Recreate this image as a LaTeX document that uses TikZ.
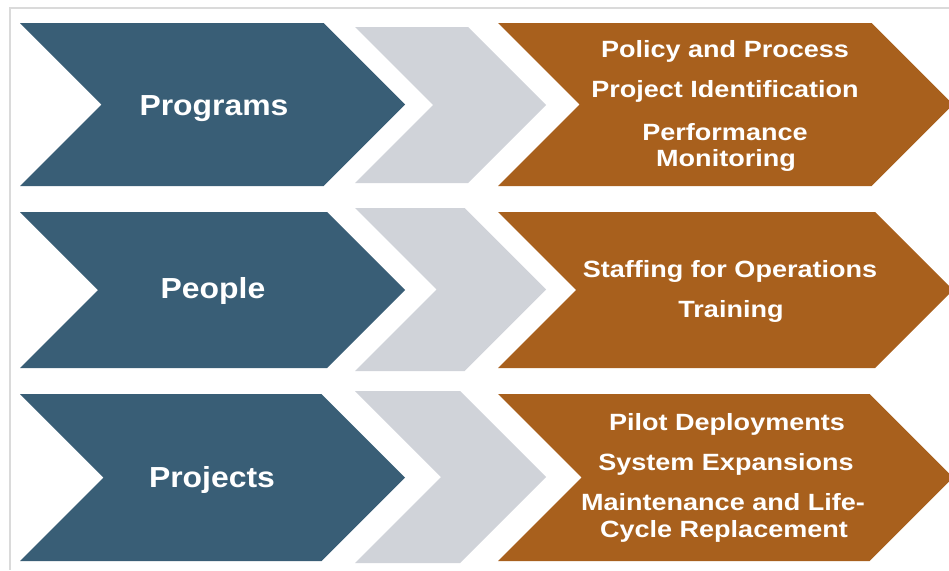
\documentclass[tikz,border=0pt]{standalone}
\usepackage{fontspec}
\setmainfont{Liberation Sans}
\usetikzlibrary{positioning}
\definecolor{slate}{RGB}{57,94,118}
\definecolor{mist}{RGB}{208,211,217}
\definecolor{rust}{RGB}{168,96,29}
\definecolor{rulegray}{RGB}{218,218,218}
\newcommand{\chev}[5]{\fill[#1] (#2,#4) -- ({#3-(#5-#4)/2},#4) -- (#3,{(#4+#5)/2}) -- ({#3-(#5-#4)/2},#5) -- (#2,#5) -- ({#2+(#5-#4)/2},{(#4+#5)/2}) -- cycle;}
\newcommand{\wide}[2]{\scalebox{#1}[1]{#2}}

\begin{document}
\begin{tikzpicture}[x=1pt, y=-1pt, b/.style={anchor=base, text=white, font=\bfseries\fontsize{29}{34}\selectfont}, o/.style={anchor=base, text=white, font=\bfseries\fontsize{23.5}{27}\selectfont}]
	\useasboundingbox[fill=white] (0,0) rectangle (949,570);
	\draw[rulegray, line width=1.2pt] (949,8) -- (10,8) -- (10,570);
	\foreach \ya/\yb/\ga/\gb in {23/186/27/183, 212/368/208/371, 394/561/391/563}{
		\chev{slate}{20}{405}{\ya}{\yb}
		\chev{mist}{355}{546}{\ga}{\gb}
		\chev{rust}{498}{953}{\ya}{\yb}
	}

	\node[b] (programs) at (214,115) {\wide{1.1}{Programs}};
	\node[b] (people) at (213,298) {\wide{1.1}{People}};
	\node[b] (projects) at (212,487) {\wide{1.1}{Projects}};

	\node[o] (policy) at (725,57) {\wide{1.15}{Policy and Process}};
	\node[o] (ident) at (725,97) {\wide{1.15}{Project Identification}};
	\node[o] (perf) at (725,140) {\wide{1.15}{Performance}};
	\node[o] (monit) at (726,166) {\wide{1.15}{Monitoring}};

	\node[o] (staff) at (730,277) {\wide{1.15}{Staffing for Operations}};
	\node[o] (train) at (731,317) {\wide{1.15}{Training}};

	\node[o] (pilot) at (727,430) {\wide{1.15}{Pilot Deployments}};
	\node[o] (expand) at (726,470) {\wide{1.15}{System Expansions}};
	\node[o] (maint) at (723,510) {\wide{1.15}{Maintenance and Life-}};
	\node[o] (cycle) at (724,537) {\wide{1.15}{Cycle Replacement}};
\end{tikzpicture}
\end{document}
